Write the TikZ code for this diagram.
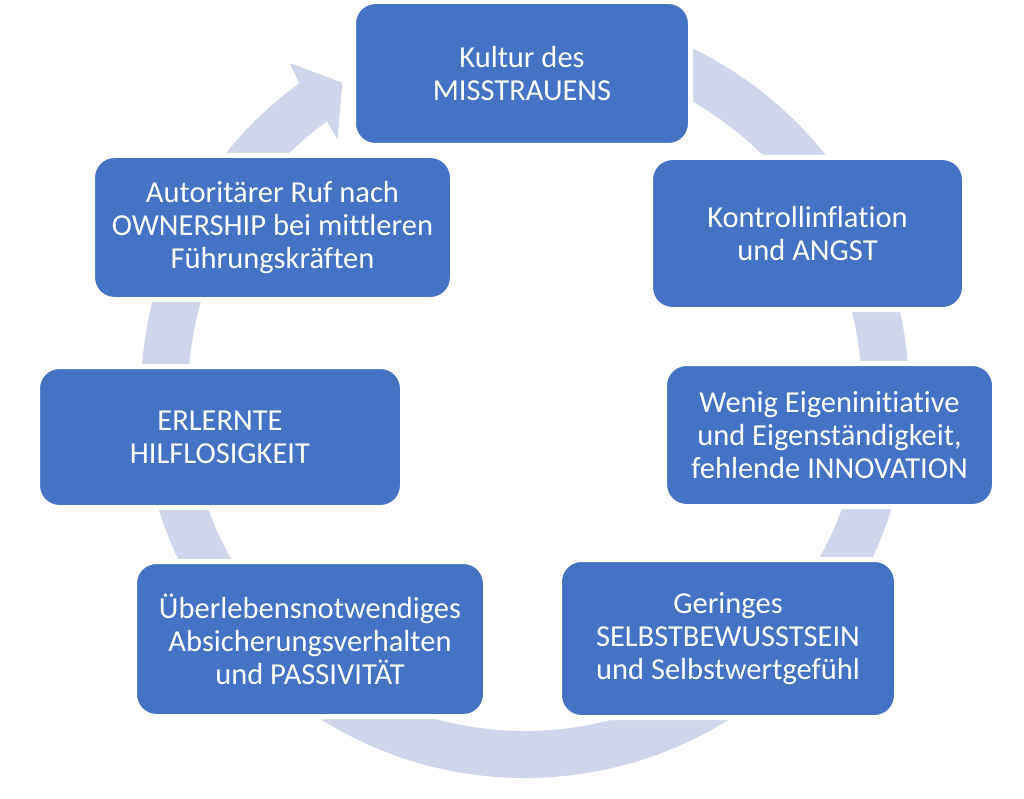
\documentclass[tikz,border=0pt]{standalone}
\usepackage{fontspec}
\setmainfont[Ligatures={NoCommon}]{Carlito}
\definecolor{boxblue}{HTML}{4472C4}
\definecolor{ringblue}{HTML}{CFD5EA}
\begin{document}
\begin{tikzpicture}[x=1pt,y=-1pt,
  stepbox/.style={draw=white, line width=5pt, fill=boxblue, rounded corners=22pt,
    inner sep=0pt, text=white, align=center, font=\fontsize{30.5}{33}\selectfont},
  ringshape/.style={fill=ringblue}
]
\useasboundingbox (0,0) rectangle (1024,799);
\fill[white] (0,0) rectangle (1024,799);
% circular arrow
\begin{scope}[shift={(525,394)}]
\fill[ringshape] (-95:384) arc[start angle=-95,end angle=234,radius=384]
  -- (234.6:406) -- (239.6:361) -- (233.6:316) -- (234:337)
  arc[start angle=234,end angle=-95,radius=337] -- cycle;
\end{scope}
% boxes
\node[stepbox, minimum width=337pt, minimum height=144pt] (kultur) at (522,73.5)
  {Kultur des\\MISSTRAUENS};
\node[stepbox, minimum width=314pt, minimum height=152pt] (kontrolle) at (807.5,233.5)
  {Kontrollinflation\\und ANGST};
\node[stepbox, minimum width=330pt, minimum height=143pt] (initiative) at (829.5,435)
  {Wenig Eigeninitiative\\und Eigenständigkeit,\\fehlende INNOVATION};
\node[stepbox, minimum width=337pt, minimum height=158pt] (selbst) at (728,638.5)
  {Geringes\\SELBSTBEWUSSTSEIN\\und Selbstwertgefühl};
\node[stepbox, minimum width=351pt, minimum height=155pt] (passiv) at (310,639)
  {Überlebensnotwendiges\\Absicherungsverhalten\\und PASSIVITÄT};
\node[stepbox, minimum width=365pt, minimum height=141pt] (hilflos) at (220,437)
  {ERLERNTE\\HILFLOSIGKEIT};
\node[stepbox, minimum width=360pt, minimum height=144pt] (ownership) at (272.5,227.5)
  {Autoritärer Ruf nach\\OWNERSHIP bei mittleren\\Führungskräften};
\end{tikzpicture}
\end{document}
